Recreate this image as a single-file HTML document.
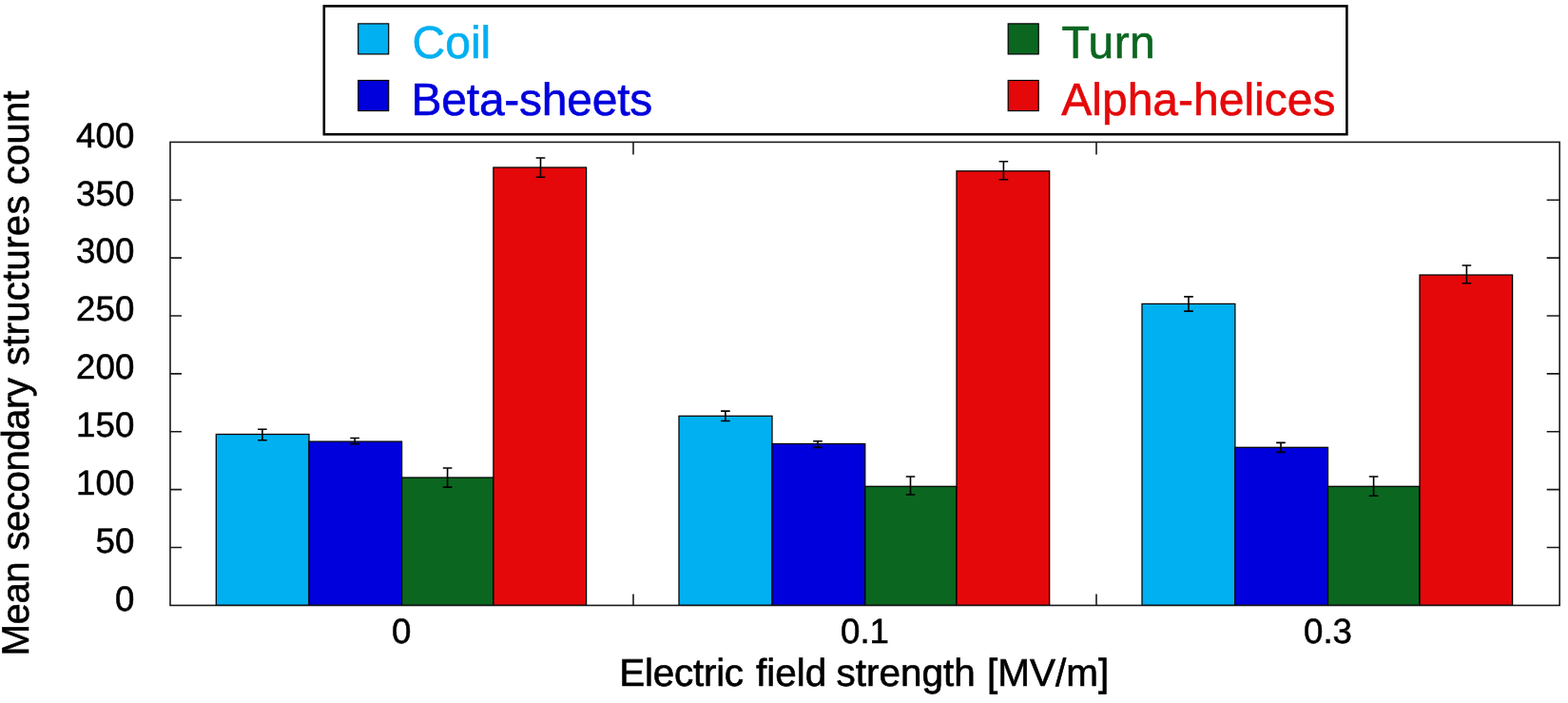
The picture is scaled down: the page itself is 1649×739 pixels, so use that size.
<!DOCTYPE html>
<html lang="en">
<head>
<meta charset="utf-8">
<title>Mean secondary structures count vs electric field strength</title>
<style>
html,body{margin:0;padding:0;background:#fff;}
body{width:1649px;height:739px;overflow:hidden;}
svg{display:block;}
text{text-rendering:geometricPrecision;}
</style>
</head>
<body>
<svg width="1649" height="739" viewBox="0 0 1649 739">
<rect x="0" y="0" width="1649" height="739" fill="#fff"/>
<g stroke="#000" stroke-width="1.25">
<rect x="227.3" y="456.5" width="97.7" height="179.9" fill="#00B0F0"/>
<rect x="325.0" y="464.1" width="97.6" height="172.3" fill="#0000DC"/>
<rect x="422.6" y="502.0" width="96.3" height="134.4" fill="#0B6620"/>
<rect x="518.9" y="176.0" width="97.7" height="460.4" fill="#E4080A"/>
<rect x="714.0" y="437.3" width="98.0" height="199.1" fill="#00B0F0"/>
<rect x="812.0" y="466.5" width="97.8" height="169.9" fill="#0000DC"/>
<rect x="909.8" y="511.3" width="96.2" height="125.1" fill="#0B6620"/>
<rect x="1006.0" y="179.8" width="97.7" height="456.6" fill="#E4080A"/>
<rect x="1201.0" y="319.4" width="97.9" height="317.0" fill="#00B0F0"/>
<rect x="1298.9" y="470.3" width="97.6" height="166.1" fill="#0000DC"/>
<rect x="1396.5" y="511.3" width="96.5" height="125.1" fill="#0B6620"/>
<rect x="1493.0" y="289.0" width="97.6" height="347.4" fill="#E4080A"/>
</g>
<g stroke="#000" stroke-width="1.6" fill="none">
<path d="M275.9 451.3V462.7M271.1 451.3H280.7M271.1 462.7H280.7"/>
<path d="M373.1 460.5V466.6M368.3 460.5H377.9M368.3 466.6H377.9"/>
<path d="M470.6 492.0V512.1M465.8 492.0H475.4M465.8 512.1H475.4"/>
<path d="M568.5 166.0V186.2M563.7 166.0H573.3M563.7 186.2H573.3"/>
<path d="M762.9 432.1V442.5M758.1 432.1H767.7M758.1 442.5H767.7"/>
<path d="M860.0 463.8V470.4M855.2 463.8H864.8M855.2 470.4H864.8"/>
<path d="M957.5 501.0V520.0M952.7 501.0H962.3M952.7 520.0H962.3"/>
<path d="M1055.4 169.8V188.7M1050.6 169.8H1060.2M1050.6 188.7H1060.2"/>
<path d="M1250.0 311.9V327.1M1245.2 311.9H1254.8M1245.2 327.1H1254.8"/>
<path d="M1347.0 465.4V475.4M1342.2 465.4H1351.8M1342.2 475.4H1351.8"/>
<path d="M1444.6 501.0V521.2M1439.8 501.0H1449.4M1439.8 521.2H1449.4"/>
<path d="M1542.4 279.0V297.7M1537.6 279.0H1547.2M1537.6 297.7H1547.2"/>
</g>
<g stroke="#1a1a1a" stroke-width="1.6" fill="none">
<rect x="179.0" y="149.4" width="1461.2" height="487.0"/>
<path d="M179.0 575.5h12M1640.2 575.5h-13.5M179.0 514.6h12M1640.2 514.6h-13.5M179.0 453.8h12M1640.2 453.8h-13.5M179.0 392.9h12M1640.2 392.9h-13.5M179.0 332.0h12M1640.2 332.0h-13.5M179.0 271.1h12M1640.2 271.1h-13.5M179.0 210.3h12M1640.2 210.3h-13.5M666.0 149.4v13.1M666.0 636.4v-12M1153.0 149.4v13.1M1153.0 636.4v-12"/>
</g>
<g font-family="'Liberation Sans', sans-serif" font-size="36.7" fill="#000" stroke="#000" stroke-width="0.55">
<g text-anchor="end">
<text x="141.3" y="641.6">0</text>
<text x="141.3" y="580.7">50</text>
<text x="141.3" y="519.9">100</text>
<text x="141.3" y="459.0">150</text>
<text x="141.3" y="398.1">200</text>
<text x="141.3" y="337.2">250</text>
<text x="141.3" y="276.3">300</text>
<text x="141.3" y="215.5">350</text>
<text x="141.3" y="154.6">400</text>
</g>
<g text-anchor="middle">
<text x="422.3" y="675.9">0</text>
<text x="909.5" y="675.9">0.1</text>
<text x="1396.5" y="675.9">0.3</text>
</g>
</g>
<g font-family="'Liberation Sans', sans-serif" fill="#000" stroke="#000" stroke-width="0.6">
<text y="721.3" font-size="40.5"><tspan x="651.3" letter-spacing="-0.28">Electric</tspan> <tspan x="795.1">field</tspan> <tspan x="879.4">strength</tspan> <tspan x="1038.1">[MV/m]</tspan></text>
<text transform="translate(29.8 690.2) rotate(-90)" y="0" font-size="40.2"><tspan x="0.6" letter-spacing="-0.4">Mean</tspan> <tspan x="111.7" letter-spacing="-0.5">secondary</tspan> <tspan x="305.9" letter-spacing="0.27">structures</tspan> <tspan x="495.9" letter-spacing="0.15">count</tspan></text>
</g>
<rect x="340.8" y="6.4" width="1075.6" height="134.8" fill="#fff" stroke="#000" stroke-width="2.6"/>
<g stroke="#000" stroke-width="1.2">
<rect x="376.7" y="24.9" width="32" height="32" fill="#00B0F0"/>
<rect x="376.7" y="84.5" width="32" height="32" fill="#0000DC"/>
<rect x="1060.2" y="24.9" width="32" height="32" fill="#0B6620"/>
<rect x="1060.2" y="84.5" width="32" height="32" fill="#E4080A"/>
</g>
<g font-family="'Liberation Sans', sans-serif" font-size="48">
<text x="433.6" y="61" fill="#00B0F0" stroke="#00B0F0" stroke-width="0.6">Coil</text>
<text x="432.6" y="121" fill="#0000DC" stroke="#0000DC" stroke-width="0.6" letter-spacing="-0.25">Beta-sheets</text>
<text x="1116.6" y="61" fill="#0B6620" stroke="#0B6620" stroke-width="0.6" letter-spacing="0.4">Turn</text>
<text x="1116.3" y="121" fill="#E4080A" stroke="#E4080A" stroke-width="0.6">Alpha-helices</text>
</g>
</svg>
</body>
</html>
